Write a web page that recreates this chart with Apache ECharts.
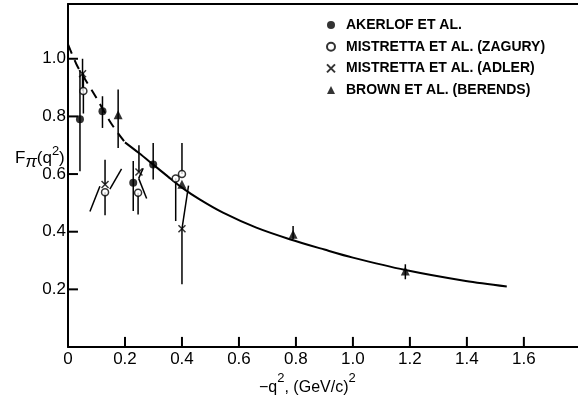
<!DOCTYPE html>
<html>
<head>
<meta charset="utf-8">
<script src="https://cdn.jsdelivr.net/npm/echarts@6/dist/echarts.min.js"></script>
<style>
    html, body { margin: 0; padding: 0; background: #fff; }
    #chart { width: 578px; height: 400px; }
</style>
</head>
<body>
<div id="chart"></div>
<script>
// tick labels shown on the axes
const xTicks = [0, 0.2, 0.4, 0.6, 0.8, 1.0, 1.2, 1.4, 1.6];
const yTicks = [0.2, 0.4, 0.6, 0.8, 1.0];

// Akerlof et al. (filled circles)
const akerlofX = [0.042, 0.121, 0.229, 0.299];
const akerlofY = [0.79, 0.818, 0.57, 0.633];
const akerlofLow = [0.61, 0.76, 0.472, 0.581];
const akerlofHigh = [0.96, 0.87, 0.645, 0.708];

// Mistretta et al. (Zagury) (open circles)
const zaguryX = [0.054, 0.13, 0.246, 0.378, 0.40];
const zaguryY = [0.888, 0.537, 0.535, 0.585, 0.60];
const zaguryLow = [0.81, 0.457, 0.46, 0.437, 0.60];
const zaguryHigh = [0.95, 0.537, 0.535, 0.585, 0.708];

// Mistretta et al. (Adler) (crosses)
const adlerX = [0.051, 0.13, 0.249, 0.40];
const adlerY = [0.948, 0.564, 0.607, 0.41];
const adlerLow = [0.888, 0.564, 0.607, 0.218];
const adlerHigh = [1.0, 0.65, 0.70, 0.41];

// Brown et al. (Berends) (triangles)
const brownX = [0.176, 0.40, 0.79, 1.184];
const brownY = [0.806, 0.565, 0.391, 0.264];
const brownLow = [0.69, 0.565, 0.374, 0.235];
const brownHigh = [0.893, 0.565, 0.42, 0.287];

// slanted strokes next to the Adler points: [x1, y1, x2, y2]
const slantSegments = [
    [0.077, 0.47, 0.112, 0.558],
    [0.147, 0.548, 0.188, 0.618],
    [0.264, 0.62, 0.248, 0.585],
    [0.248, 0.585, 0.276, 0.515],
    [0.40, 0.41, 0.423, 0.56]
];

// fitted curve, dashed part then solid part
const curveDashX = [0, 0.03, 0.05, 0.1, 0.15, 0.2];
const curveDashY = [1.05, 0.98, 0.945, 0.864, 0.778, 0.71];
const curveSolidX = [0.2, 0.25, 0.3, 0.35, 0.4, 0.462, 0.544, 0.661, 0.778, 0.9, 1.0, 1.184, 1.396, 1.54];
const curveSolidY = [0.71, 0.672, 0.632, 0.592, 0.553, 0.512, 0.466, 0.414, 0.374, 0.338, 0.31, 0.267, 0.229, 0.21];

const FONT = 'Liberation Sans';
const zip = (xs, ys) => xs.map((x, i) => [x, ys[i]]);
const bars = (xs, lo, hi) => xs.map((x, i) => [x, lo[i], hi[i]]);
const isTick = (list, v) => list.some(t => Math.abs(t - v) < 1e-6);

const errorBars = [].concat(
    bars(akerlofX, akerlofLow, akerlofHigh),
    bars(zaguryX, zaguryLow, zaguryHigh),
    bars(adlerX, adlerLow, adlerHigh),
    bars(brownX, brownLow, brownHigh)
).filter(b => b[2] > b[1]);

// inward tick marks drawn as short bars from the axis: [x, yFrom, yTo] and [y, xFrom, xTo]
const xTickBars = xTicks.filter(t => t > 0).map(t => [t, 0, 0.035]);
const yTickBars = yTicks.map(t => [t, 0, 0.035]);

const segment = (a, b, w) => ({
    type: 'line',
    shape: { x1: a[0], y1: a[1], x2: b[0], y2: b[1] },
    style: { stroke: '#000', lineWidth: w }
});

const chart = echarts.init(document.getElementById('chart'));

const option = {
    animation: false,
    backgroundColor: '#fff',
    grid: { left: 68, right: 0, top: 4, bottom: 53 },
    legend: {
        orient: 'vertical',
        left: 321,
        top: 13,
        itemWidth: 8,
        itemHeight: 8,
        itemGap: 7.7,
        data: ['AKERLOF ET AL.', 'MISTRETTA ET AL. (ZAGURY)', 'MISTRETTA ET AL. (ADLER)', 'BROWN ET AL. (BERENDS)'],
        textStyle: { color: '#000', fontFamily: FONT, fontSize: 14, fontWeight: 'bold', lineHeight: 14, padding: [0, 0, 0, 6] }
    },
    xAxis: [
        {
            type: 'value', min: 0, max: 1.79, interval: 0.2,
            axisLine: { show: true, onZero: false, lineStyle: { color: '#000', width: 2 } },
            splitLine: { show: false },
            axisTick: { show: false },
            axisLabel: {
                formatter: v => !isTick(xTicks, v) ? '' : (v === 0 ? '0' : v.toFixed(1)),
                showMaxLabel: false,
                color: '#000', fontFamily: FONT, fontSize: 17, margin: 4
            }
        },
        {
            type: 'value', min: 0, max: 1.79, position: 'top',
            axisLine: { show: true, onZero: false, lineStyle: { color: '#000', width: 2 } },
            splitLine: { show: false }, axisTick: { show: false }, axisLabel: { show: false }
        }
    ],
    yAxis: {
        type: 'value', min: 0, max: 1.19, interval: 0.2,
        axisLine: { show: true, onZero: false, lineStyle: { color: '#000', width: 2 } },
        splitLine: { show: false },
        axisTick: { show: false },
        axisLabel: {
            formatter: v => isTick(yTicks, v) ? v.toFixed(1) : '',
            showMaxLabel: false,
            color: '#000', fontFamily: FONT, fontSize: 17, margin: 2
        }
    },
    graphic: [
        {
            type: 'text', left: 15, top: 145,
            style: {
                text: '{a|F}{s|π}{a|(q}{p|2}{a|)}',
                rich: {
                    a: { fontFamily: FONT, fontSize: 17, lineHeight: 26, fill: '#000' },
                    s: { fontFamily: FONT, fontSize: 17, fontStyle: 'italic', lineHeight: 17, verticalAlign: 'bottom', fill: '#000' },
                    p: { fontFamily: FONT, fontSize: 13, lineHeight: 15, verticalAlign: 'top', fill: '#000' }
                }
            }
        },
        {
            type: 'text', left: 259, top: 372,
            style: {
                text: '{a|−q}{p|2}{a|, (GeV/c)}{p|2}',
                rich: {
                    a: { fontFamily: FONT, fontSize: 16, lineHeight: 24, verticalAlign: 'bottom', fill: '#000' },
                    p: { fontFamily: FONT, fontSize: 13, lineHeight: 13, verticalAlign: 'top', fill: '#000' }
                }
            }
        }
    ],
    series: [
        {
            type: 'line', data: zip(curveDashX, curveDashY), symbol: 'none', smooth: 0.3,
            lineStyle: { color: '#000', width: 2, type: [10, 7] }, z: 1
        },
        {
            type: 'line', data: zip(curveSolidX, curveSolidY), symbol: 'none', smooth: 0.3,
            lineStyle: { color: '#000', width: 2 }, z: 1
        },
        {
            type: 'custom', data: errorBars, z: 2,
            encode: { x: 0, y: [1, 2] },
            renderItem: (params, api) => segment(
                api.coord([api.value(0), api.value(1)]),
                api.coord([api.value(0), api.value(2)]), 1.5)
        },
        {
            type: 'custom', data: slantSegments, z: 2,
            encode: { x: [0, 2], y: [1, 3] },
            renderItem: (params, api) => segment(
                api.coord([api.value(0), api.value(1)]),
                api.coord([api.value(2), api.value(3)]), 1.5)
        },
        {
            type: 'custom', data: xTickBars, z: 3,
            encode: { x: 0, y: [1, 2] },
            renderItem: (params, api) => segment(
                api.coord([api.value(0), api.value(1)]),
                api.coord([api.value(0), api.value(2)]), 2)
        },
        {
            type: 'custom', data: yTickBars, z: 3,
            encode: { y: 0, x: [1, 2] },
            renderItem: (params, api) => segment(
                api.coord([api.value(1), api.value(0)]),
                api.coord([api.value(2), api.value(0)]), 2)
        },
        {
            name: 'AKERLOF ET AL.', type: 'scatter', data: zip(akerlofX, akerlofY), z: 5,
            symbol: 'circle', symbolSize: 8, itemStyle: { color: '#000' }
        },
        {
            name: 'MISTRETTA ET AL. (ZAGURY)', type: 'scatter', data: zip(zaguryX, zaguryY), z: 5,
            symbol: 'circle', symbolSize: 7, itemStyle: { color: '#fff', borderColor: '#000', borderWidth: 1.5 }
        },
        {
            name: 'MISTRETTA ET AL. (ADLER)', type: 'scatter', data: zip(adlerX, adlerY), z: 5,
            symbol: 'path://M0,0L10,10M10,0L0,10', symbolSize: 7,
            itemStyle: { color: 'rgba(0,0,0,0)', borderColor: '#000', borderWidth: 1.5 }
        },
        {
            name: 'BROWN ET AL. (BERENDS)', type: 'scatter', data: zip(brownX, brownY), z: 5,
            symbol: 'triangle', symbolSize: 9, itemStyle: { color: '#000' }
        }
    ]
};

chart.setOption(option);
</script>
</body>
</html>
